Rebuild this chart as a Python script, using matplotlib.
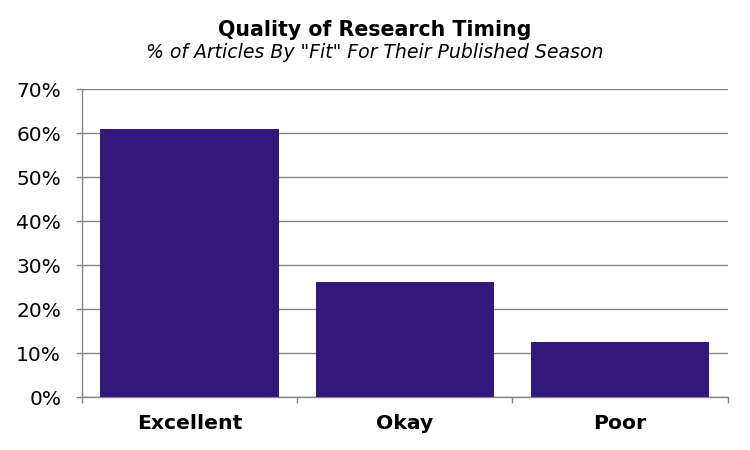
import matplotlib
matplotlib.use("Agg")
import matplotlib.pyplot as plt
from matplotlib.ticker import PercentFormatter

# dados
categorias = ["Excellent", "Okay", "Poor"]
percentuais = [61.0, 26.2, 12.6]
ticks_y = [0, 10, 20, 30, 40, 50, 60, 70]

COR_BARRA = "#31187A"
COR_EIXO = "#868686"

plt.rcParams["font.family"] = ["DejaVu Sans"]

fig = plt.figure(figsize=(7.5, 4.5), dpi=100)
ax = fig.add_axes([0.1093, 0.117, 0.861, 0.6846])

x = list(range(len(categorias)))
ax.bar(x, percentuais, width=0.83, color=COR_BARRA, zorder=3)

ax.set_xlim(-0.5, len(categorias) - 0.5)
ax.set_ylim(0, 70)
ax.set_yticks(ticks_y)
ax.yaxis.set_major_formatter(PercentFormatter(decimals=0))
ax.grid(axis="y", color=COR_EIXO, linewidth=1, zorder=0)

# marcas do eixo x nos limites das categorias
ax.set_xticks([i - 0.5 for i in range(len(categorias) + 1)])
ax.set_xticklabels([])
ax.set_xticks(x, minor=True)
ax.set_xticklabels(categorias, minor=True, fontsize=14.7, fontweight="bold")
ax.tick_params(axis="x", which="minor", length=0, pad=12)
ax.tick_params(axis="x", which="major", length=4.5, color=COR_EIXO, width=1)
ax.tick_params(axis="y", length=4.5, color=COR_EIXO, width=1, labelsize=14.5, pad=10.5)

for lado in ["top", "right"]:
    ax.spines[lado].set_visible(False)
for lado in ["left", "bottom"]:
    ax.spines[lado].set_color(COR_EIXO)
    ax.spines[lado].set_linewidth(1)

fig.text(0.5, 0.919, "Quality of Research Timing", ha="center", va="baseline",
         fontsize=14.8, fontweight="bold")
fig.text(0.5, 0.87, '% of Articles By "Fit" For Their Published Season',
         ha="center", va="baseline", fontsize=13.6, fontstyle="italic")

fig.savefig("out.png", dpi=100)
